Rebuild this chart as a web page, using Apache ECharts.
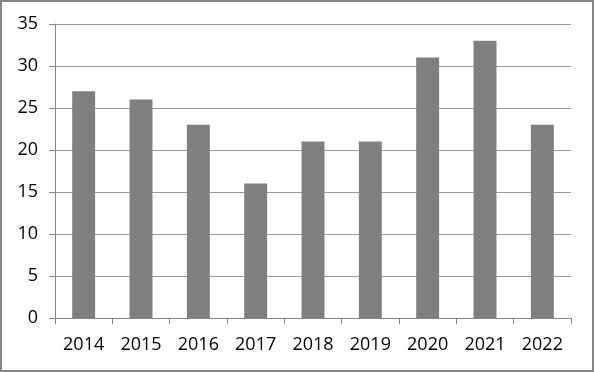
<!DOCTYPE html>
<html>
<head>
<meta charset="utf-8">
<script src="https://cdn.jsdelivr.net/npm/echarts@6/dist/echarts.min.js"></script>
<style>
    html, body {margin: 0; padding: 0; background: #fff;}
    #chart {width: 590px; height: 368px; border: 2px solid #868686;}
</style>
</head>
<body>
<div id="chart"></div>
<script>
const years = ['2014', '2015', '2016', '2017', '2018', '2019', '2020', '2021', '2022'];
const counts = [27, 26, 23, 16, 21, 21, 31, 33, 23];
const yTicks = {min: 0, max: 35, interval: 5};

let chart = echarts.init(document.getElementById('chart'));
chart.setOption({
    animation: false,
    textStyle: {fontFamily: 'Open Sans'},
    grid: {left: 53, right: 21, top: 22, bottom: 52},
    xAxis: {
        type: 'category',
        data: years,
        axisLine: {lineStyle: {color: '#868686', width: 1}},
        axisTick: {show: true, length: 6, lineStyle: {color: '#868686'}},
        axisLabel: {color: '#000', fontSize: 18, margin: 18}
    },
    yAxis: {
        type: 'value',
        min: yTicks.min,
        max: yTicks.max,
        interval: yTicks.interval,
        axisLine: {show: true, lineStyle: {color: '#868686', width: 1}},
        axisTick: {show: true, length: 6, lineStyle: {color: '#868686'}},
        axisLabel: {color: '#000', fontSize: 18, margin: 17},
        splitLine: {lineStyle: {color: '#9a9a9a', width: 1}}
    },
    series: [{
        type: 'bar',
        data: counts,
        barWidth: '40%',
        itemStyle: {color: '#7f7f7f'}
    }]
});
</script>
</body>
</html>
